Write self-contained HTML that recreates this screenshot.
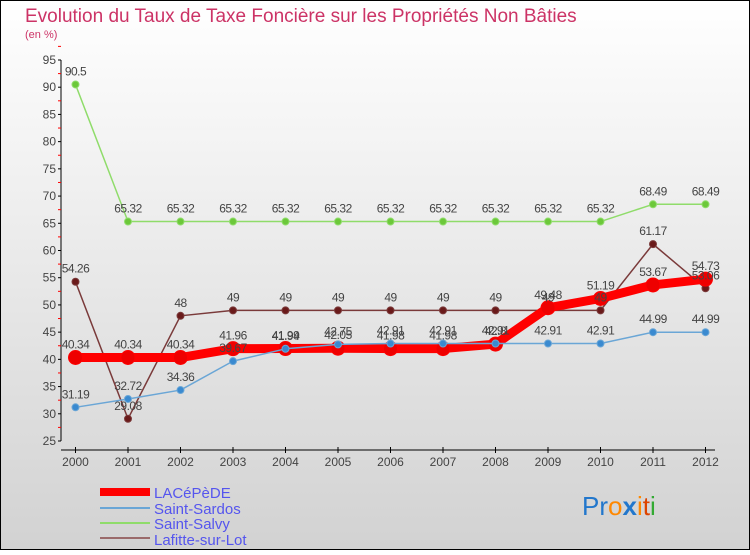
<!DOCTYPE html>
<html><head><meta charset="utf-8"><style>
body{margin:0;width:750px;height:550px;overflow:hidden;font-family:"Liberation Sans",sans-serif}
</style></head><body>
<svg id="c" width="750" height="550" xmlns="http://www.w3.org/2000/svg">
<defs><linearGradient id="bg" x1="0" y1="0" x2="0" y2="1"><stop offset="0" stop-color="#ffffff"/><stop offset="1" stop-color="#d2d2d2"/></linearGradient></defs>
<rect x="0.5" y="0.5" width="749" height="549" fill="url(#bg)" stroke="#000"/>
<text x="25" y="22" font-size="19" fill="#cc3366">Evolution du Taux de Taxe Foncière sur les Propriétés Non Bâties</text>
<text x="25" y="38" font-size="11" fill="#cc3366">(en %)</text>
<g id="axes"></g><g id="series"></g><g id="labels"></g>
<g>
<rect x="100" y="488" width="50" height="8" fill="#ff0000"/>
<line x1="100" y1="508" x2="150" y2="508" stroke="#6aa6d6" stroke-width="2"/>
<line x1="100" y1="523" x2="150" y2="523" stroke="#8fdc6a" stroke-width="2"/>
<line x1="100" y1="538" x2="150" y2="538" stroke="#9a6a6a" stroke-width="2"/>
<g font-size="15" fill="#5555ee">
<text x="154" y="498">LACéPèDE</text>
<text x="154" y="514">Saint-Sardos</text>
<text x="154" y="529">Saint-Salvy</text>
<text x="154" y="545">Lafitte-sur-Lot</text>
</g></g>
<g font-size="26"><text x="582" y="515"><tspan fill="#2277cc">Pr</tspan><tspan fill="#ff8800">o</tspan><tspan fill="#2277cc" font-weight="bold">x</tspan><tspan fill="#ff8800">i</tspan><tspan fill="#dd4400">t</tspan><tspan fill="#33aa33">i</tspan></text></g>
</svg>
<script>
const years=[2000,2001,2002,2003,2004,2005,2006,2007,2008,2009,2010,2011,2012];
const lacepede=[40.34,40.34,40.34,41.96,41.99,42.05,41.98,41.98,42.8,49.48,51.19,53.67,54.73];
const sardos=[31.19,32.72,34.36,39.67,41.94,42.75,42.91,42.91,42.91,42.91,42.91,44.99,44.99];
const salvy=[90.5,65.32,65.32,65.32,65.32,65.32,65.32,65.32,65.32,65.32,65.32,68.49,68.49];
const lafitte=[54.26,29.08,48,49,49,49,49,49,49,49,49,61.17,53.06];
const yTicks=[25,30,35,40,45,50,55,60,65,70,75,80,85,90,95];
const NS="http://www.w3.org/2000/svg";
const X=i=>75.5+i*52.5, Y=v=>441-(v-25)*5.443;
function mk(p,t,a){const e=document.createElementNS(NS,t);for(const k in a)e.setAttribute(k,a[k]);p.appendChild(e);return e;}
const ax=document.getElementById('axes');
mk(ax,'line',{x1:61,y1:Y(95),x2:61,y2:Y(25),stroke:'#000'});
mk(ax,'line',{x1:61,y1:450,x2:715,y2:450,stroke:'#000'});
yTicks.forEach(v=>{
 mk(ax,'line',{x1:58,y1:Y(v),x2:61,y2:Y(v),stroke:'#000'});
 mk(ax,'line',{x1:58,y1:Y(v+2.5),x2:61,y2:Y(v+2.5),stroke:'#f00'});
 const t=mk(ax,'text',{x:56,y:Y(v)+4,'font-size':12,fill:'#444','text-anchor':'end'});t.textContent=v;
 
 
});
years.forEach((yr,i)=>{
 mk(ax,'line',{x1:X(i),y1:447,x2:X(i),y2:453,stroke:'#000'});
 const t=mk(ax,'text',{x:X(i),y:466,'font-size':12,fill:'#444','text-anchor':'middle'});t.textContent=yr;
 
 
});
const sg=document.getElementById('series'),lg=document.getElementById('labels');
function draw(vals,color,w,r,dot,name){
 const p=mk(sg,'polyline',{points:vals.map((v,i)=>X(i)+','+Y(v)).join(' '),fill:'none',stroke:color,'stroke-width':w,'stroke-linejoin':'round'});
 
 
 vals.forEach((v,i)=>{
  const c=mk(sg,'circle',{cx:X(i),cy:Y(v),r:r,fill:dot,stroke:color,'stroke-width':1});
  
  
  const t=mk(lg,'text',{x:X(i),y:Y(v)-9,'font-size':12,fill:'#444','text-anchor':'middle','letter-spacing':'-0.5'});t.textContent=v;
  
  
 });
}
draw(salvy,'#8fdc6a',1.5,3.5,'#6cc83a','saint-salvy');
draw(lafitte,'#7a3a3a',1.5,3.5,'#6a1a1a','lafitte');
draw(lacepede,'#ff0000',9,7,'#ee0000','lacepede');
draw(sardos,'#6aa6d6',1.5,3.5,'#3a8ad0','saint-sardos');
</script>
</body></html>
